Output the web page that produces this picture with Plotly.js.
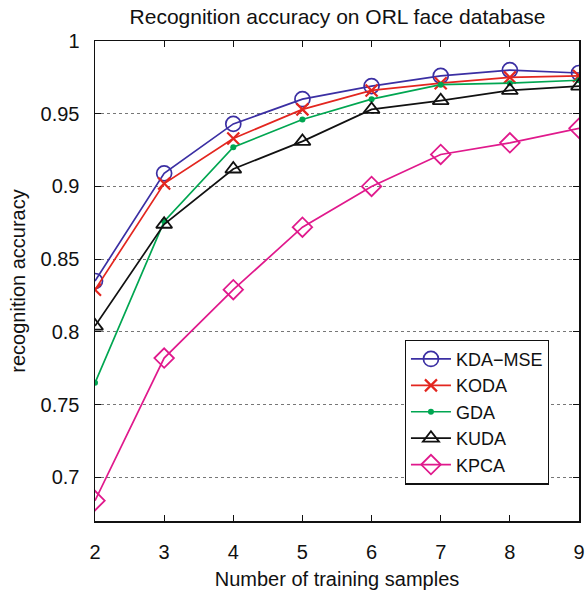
<!DOCTYPE html>
<html>
<head>
<meta charset="utf-8">
<script src="https://cdn.plot.ly/plotly-3.0.1.min.js"></script>
<style>html,body{margin:0;padding:0;background:#fff;}#chart{width:585px;height:595px;}</style>
</head>
<body>
<div id="chart"></div>
<script>
const samples = [2, 3, 4, 5, 6, 7, 8, 9];
const kdaMse = [0.835, 0.909, 0.943, 0.960, 0.969, 0.976, 0.980, 0.978];
const koda   = [0.829, 0.902, 0.933, 0.953, 0.966, 0.971, 0.975, 0.976];
const gda    = [0.765, 0.876, 0.927, 0.946, 0.960, 0.970, 0.971, 0.973];
const kuda   = [0.804, 0.874, 0.912, 0.931, 0.953, 0.959, 0.966, 0.969];
const kpca   = [0.684, 0.782, 0.829, 0.872, 0.900, 0.922, 0.930, 0.940];
const yTickVals = [0.7, 0.75, 0.8, 0.85, 0.9, 0.95, 1];
const yTickText = ["0.7", "0.75", "0.8", "0.85", "0.9", "0.95", "1"];

const FONT = "Liberation Sans, Arial, Helvetica, sans-serif";

function tr(name, y, color, symbol, size, lw) {
  return {
    x: samples, y: y, name: name, type: 'scatter', mode: 'lines+markers',
    line: {color: color, width: 1.7},
    marker: {symbol: symbol, size: size, color: color, line: {color: color, width: lw}}
  };
}

const data = [
  tr('KDA\u2212MSE', kdaMse, '#3b2fa3', 'circle-open', 15, 1.7),
  tr('KODA', koda, '#e3261f', 'x-thin-open', 12, 2.2),
  tr('GDA', gda, '#00a651', 'circle', 6, 0),
  tr('KUDA', kuda, '#111111', 'triangle-up-open', 14, 1.8),
  tr('KPCA', kpca, '#e0198c', 'diamond-open', 15, 1.8)
];

const layout = {
  width: 585, height: 595,
  margin: {l: 95, r: 6, t: 41, b: 74, pad: 0},
  paper_bgcolor: '#fff', plot_bgcolor: '#fff',
  font: {family: FONT, size: 20, color: '#111'},
  title: {text: 'Recognition accuracy on ORL face database', font: {family: FONT, size: 21, color: '#111'}, x: 0.577, xanchor: 'center', y: 0.972, yanchor: 'middle'},
  xaxis: {
    range: [2, 9], tickvals: samples, ticks: 'inside', ticklen: 6, tickwidth: 1, tickcolor: '#111',
    showline: true, linecolor: '#111', linewidth: 1.5, mirror: 'ticks',
    showgrid: false, zeroline: false,
    tickfont: {family: FONT, size: 20, color: '#111'},
    ticklabelstandoff: 12,
    title: {text: 'Number of training samples', font: {family: FONT, size: 20, color: '#111'}, standoff: 10}
  },
  yaxis: {
    range: [0.67, 1], tickvals: yTickVals, ticktext: yTickText, ticks: 'inside', ticklen: 6, tickwidth: 1, tickcolor: '#111',
    showline: true, linecolor: '#111', linewidth: 1.5, mirror: 'ticks',
    showgrid: true, gridcolor: '#777', griddash: 'dot', gridwidth: 1, zeroline: false,
    tickfont: {family: FONT, size: 20, color: '#111'},
    ticklabelstandoff: 10,
    title: {text: 'recognition accuracy', font: {family: FONT, size: 20, color: '#111'}, standoff: 9}
  },
  legend: {
    x: 0.64, y: 0.378, xanchor: 'left', yanchor: 'top',
    bgcolor: '#fff', bordercolor: '#111', borderwidth: 1.2,
    font: {family: FONT, size: 18, color: '#111'},
    tracegroupgap: 0, itemwidth: 40
  },
  showlegend: true
};

Plotly.newPlot('chart', data, layout, {displayModeBar: false, staticPlot: true});
</script>
</body>
</html>
